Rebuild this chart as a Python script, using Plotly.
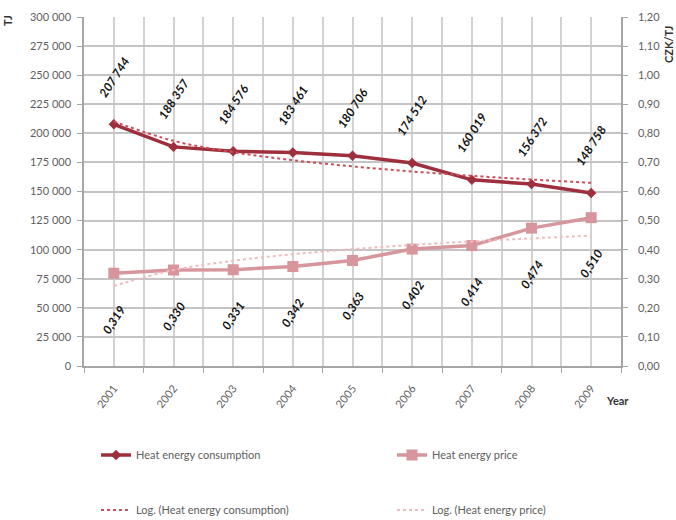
import numpy as np
import plotly.graph_objects as go

# Heat energy consumption (TJ) and heat energy price (CZK/TJ), 2001-2009
years = [2001, 2002, 2003, 2004, 2005, 2006, 2007, 2008, 2009]
consumption = [207744, 188357, 184576, 183461, 180706, 174512, 160019, 156372, 148758]
price = [0.319, 0.330, 0.331, 0.342, 0.363, 0.402, 0.414, 0.474, 0.510]

FONT = "Lato"
C_CONS = "#9e2f3c"
C_PRICE = "#d6969b"
C_CONS_TREND = "#c8505a"
C_PRICE_TREND = "#f1bcc0"
GRID = "#c4c4c4"
TXT = "#5e5e5e"

# Logarithmic trend lines: y = a + b*ln(n), n = 1..9
n = np.arange(1, len(years) + 1)
b_c, a_c = np.polyfit(np.log(n), consumption, 1)
b_p, a_p = np.polyfit(np.log(n), price, 1)
trend_cons = a_c + b_c * np.log(n)
trend_price = a_p + b_p * np.log(n)

L, R, T, B = 84, 55, 17, 154
W, H = 676, 520
pw, ph = W - L - R, H - T - B


def px_x(x):
    return (x - L) / pw


def px_y(y):
    return (H - B - y) / ph


fig = go.Figure()

fig.add_trace(go.Scatter(
    x=years, y=consumption, name="Heat energy consumption",
    mode="lines+markers", line=dict(color=C_CONS, width=3.5),
    marker=dict(symbol="diamond", size=8, color=C_CONS),
    legend="legend"))
fig.add_trace(go.Scatter(
    x=years, y=price, name="Heat energy price", yaxis="y2",
    mode="lines+markers", line=dict(color=C_PRICE, width=3.5),
    marker=dict(symbol="square", size=11, color=C_PRICE),
    legend="legend2"))
fig.add_trace(go.Scatter(
    x=years, y=trend_cons, name="Log. (Heat energy consumption)",
    mode="lines", line=dict(color=C_CONS_TREND, width=2, dash="dot", shape="spline"),
    legend="legend3"))
fig.add_trace(go.Scatter(
    x=years, y=trend_price, name="Log. (Heat energy price)", yaxis="y2",
    mode="lines", line=dict(color=C_PRICE_TREND, width=2, dash="dot", shape="spline"),
    legend="legend4"))

label_font = dict(family=FONT, size=12, color="#111111", weight="bold", style="italic")
annotations = []
for yr, v in zip(years, consumption):
    annotations.append(dict(
        x=yr, y=v, xref="x", yref="y", showarrow=False,
        text=f"{v:,}".replace(",", " "), textangle=-57, yshift=47, font=label_font))
for yr, v in zip(years, price):
    annotations.append(dict(
        x=yr, y=v, xref="x", yref="y2", showarrow=False,
        text=f"{v:.3f}".replace(".", ","), textangle=-57, yshift=-46, font=label_font))

# Axis titles
title_font = dict(family=FONT, size=11, color="#333333", weight="bold")
for txt, x, y, ang in [("TJ", 8, 21, -90), ("CZK/TJ", 669, 45, -90), ("Year", 617, 400, 0)]:
    annotations.append(dict(
        x=px_x(x), y=px_y(y), xref="paper", yref="paper", text=txt,
        showarrow=False, textangle=ang, xanchor="center", yanchor="middle",
        font=title_font))


def legend_box(x, y):
    return dict(
        orientation="h", x=px_x(x), xanchor="left", y=px_y(y), yanchor="middle",
        font=dict(family=FONT, size=11, color=TXT), bgcolor="rgba(0,0,0,0)")


fig.update_layout(
    width=W, height=H,
    margin=dict(l=L, r=R, t=T, b=B, autoexpand=False),
    paper_bgcolor="white", plot_bgcolor="white",
    separators=", ",
    font=dict(family=FONT, size=11, color=TXT),
    annotations=annotations,
    showlegend=True,
    xaxis=dict(
        range=[2000.5, 2009.5], tickmode="array", tickvals=years,
        ticktext=[str(y) for y in years], tickangle=-52, ticklabelstandoff=10,
        ticks="", showgrid=True, gridcolor="#d2d2d2", gridwidth=1.5,
        showline=True, linecolor="#a6a6a6", linewidth=1.5,
        tickfont=dict(family=FONT, size=11, color=TXT),
        minor=dict(tick0=2000.5, dtick=1, showgrid=True, gridcolor="#d2d2d2",
                   gridwidth=1.5, ticks="outside", ticklen=5, tickcolor="#a6a6a6"),
        zeroline=False, automargin=False),
    yaxis=dict(
        range=[0, 300000], dtick=25000, tickformat=",d",
        showgrid=True, gridcolor=GRID, gridwidth=2,
        showline=True, linecolor="#a6a6a6", linewidth=1.5,
        ticks="outside", ticklen=5, tickcolor="#a6a6a6", ticklabelstandoff=4,
        tickfont=dict(family=FONT, size=11, color=TXT),
        zeroline=False, automargin=False),
    yaxis2=dict(
        range=[0, 1.2], dtick=0.1, tickformat=".2f", overlaying="y", side="right",
        showgrid=False, showline=True, linecolor="#a6a6a6", linewidth=1.5,
        ticks="outside", ticklen=5, tickcolor="#a6a6a6", ticklabelstandoff=8,
        tickfont=dict(family=FONT, size=11, color=TXT),
        zeroline=False, automargin=False),
    legend=legend_box(96, 455),
    legend2=legend_box(392, 455),
    legend3=legend_box(96, 510),
    legend4=legend_box(392, 510),
)

fig.write_html("out.html")
